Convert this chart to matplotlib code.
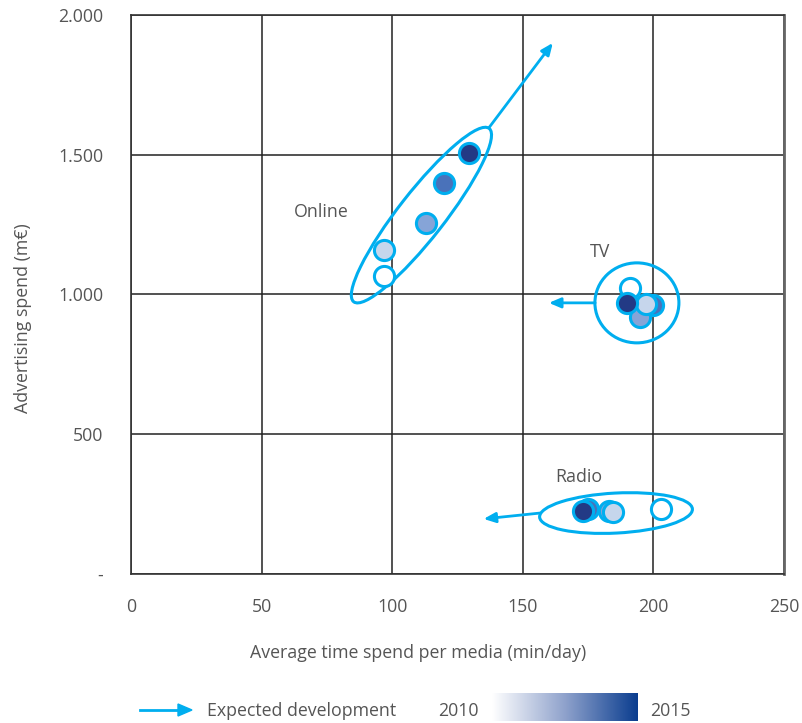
import numpy as np
import matplotlib.pyplot as plt
from matplotlib.patches import Ellipse
from matplotlib.transforms import Affine2D, ScaledTranslation
from matplotlib.colors import LinearSegmentedColormap

plt.rcParams['font.family'] = ['Open Sans', 'DejaVu Sans']

# Shades from oldest (white) to newest (dark blue)
shades = ['#ffffff', '#86a4d7', '#4a72ba', '#c6d6ec', '#233a85']

# Online, TV, Radio: time spent (min/day) and spend (m€), in draw order
online_x = [97, 113, 120, 97, 129.5]
online_y = [1066, 1256, 1399, 1159, 1506]
tv_x = [191, 195, 200, 197, 190]
tv_y = [1023, 920, 962, 966, 968]
radio_x = [203, 183, 175, 184.5, 173]
radio_y = [232, 225, 232, 222, 225]

xticks = [0, 50, 100, 150, 200, 250]
yticks = [0, 500, 1000, 1500, 2000]
ytick_labels = ['-', '500', '1.000', '1.500', '2.000']

cyan = '#00aeef'
grey = '#555555'
fs = 12.8

fig = plt.figure(figsize=(8.03, 7.23), dpi=100)
ax = fig.add_axes([0.1631, 0.2061, 0.8132, 0.7732])
ax.set_xlim(0, 250)
ax.set_ylim(0, 2000)
ax.set_xticks(xticks)
ax.set_yticks(yticks)
ax.set_yticklabels(ytick_labels)
ax.tick_params(length=0, labelsize=fs, labelcolor=grey)
ax.tick_params(axis='x', pad=17)
ax.tick_params(axis='y', pad=20)
ax.grid(True, color='#222222', lw=1.1)
ax.set_axisbelow(True)
for s in ['left', 'bottom', 'top']:
    ax.spines[s].set_color('#333333')
    ax.spines[s].set_linewidth(1.2)
ax.spines['right'].set_color('#666666')
ax.spines['right'].set_linewidth(2)

ax.set_xlabel('Average time spend per media (min/day)', fontsize=fs, color=grey)
ax.xaxis.set_label_coords(0.44, -0.125)
ax.set_ylabel('Advertising spend (m€)', fontsize=fs, color=grey)
ax.yaxis.set_label_coords(-0.151, 0.458)


def ring(cx, cy, w, h, angle):
    # ellipse sized in pixels, centred on a data point
    tr = Affine2D() + ScaledTranslation(cx, cy, ax.transData)
    ax.add_patch(Ellipse((0, 0), w, h, angle=angle, fill=False, ec=cyan, lw=2.2,
                         transform=tr, zorder=3, clip_on=False))


def arrow(x0, y0, x1, y1):
    ax.annotate('', xy=(x1, y1), xytext=(x0, y0),
                arrowprops=dict(arrowstyle='-|>,head_length=0.7,head_width=0.3',
                                color=cyan, lw=2, shrinkA=0, shrinkB=0), zorder=3)


ring(111.2, 1284, 220, 46, 52)
ring(193.7, 970, 84, 80, 0)
ring(185.7, 218, 153, 40, 3)

arrow(137, 1596, 161.5, 1900)
arrow(177.7, 970, 160, 970)
arrow(156.6, 218, 135, 197)

for xs, ys in [(online_x, online_y), (tv_x, tv_y), (radio_x, radio_y)]:
    for x, y, c in zip(xs, ys, shades):
        ax.plot(x, y, 'o', ms=14.5, mfc=c, mec=cyan, mew=2.2, zorder=4)

ax.text(72.7, 1295, 'Online', fontsize=fs, color=grey, ha='center', va='center')
ax.text(179.6, 1152, 'TV', fontsize=fs, color=grey, ha='center', va='center')
ax.text(171.5, 347, 'Radio', fontsize=fs, color=grey, ha='center', va='center')

# legend row
fig.add_artist(plt.Line2D([140 / 803, 180 / 803], [1 - 710 / 723] * 2, color=cyan, lw=2))
fig.add_artist(plt.Polygon([[178 / 803, 1 - 704 / 723], [192 / 803, 1 - 710 / 723],
                            [178 / 803, 1 - 716 / 723]], closed=True, color=cyan))
fig.text(207 / 803, 1 - 711 / 723, 'Expected development', fontsize=fs, color=grey, va='center')
fig.text(438 / 803, 1 - 711 / 723, '2010', fontsize=fs, color=grey, va='center')
fig.text(650 / 803, 1 - 711 / 723, '2015', fontsize=fs, color=grey, va='center')
cax = fig.add_axes([492 / 803, 1 - 721 / 723, 145 / 803, 28 / 723])
cmap = LinearSegmentedColormap.from_list('yrs', ['#ffffff', '#8fa2cc', '#0a3d8f'])
cax.imshow(np.linspace(0, 1, 256)[None, :], aspect='auto', cmap=cmap)
cax.axis('off')

fig.savefig('out.png', dpi=100)
